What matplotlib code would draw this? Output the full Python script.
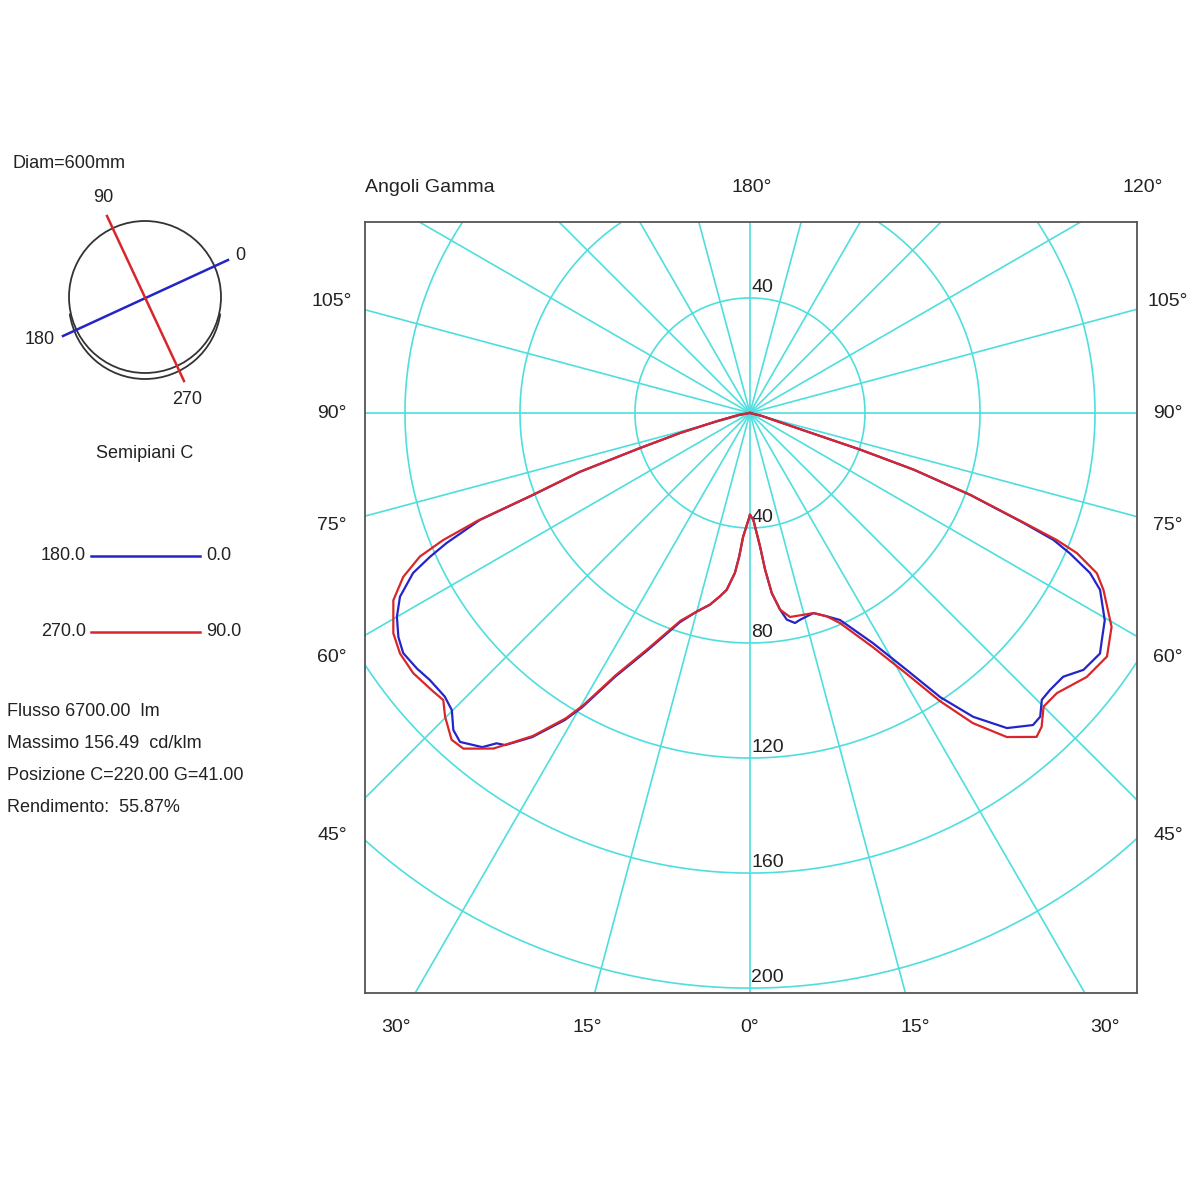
import numpy as np
import matplotlib
matplotlib.use("Agg")
import matplotlib.pyplot as plt
from matplotlib.patches import Circle, Arc

plt.rcParams['font.family'] = ['Liberation Sans', 'DejaVu Sans']

# ---------------- data (gamma in degrees, intensity in cd/klm) ----------------
# C0 half-plane (blue, right side)
gamma_c0 = [0, 1.8, 4.3, 5.5, 6.9, 8.7, 10.1, 12.1, 13.6, 17.6, 20.7, 23.5, 28.1, 31.4,
            33.8, 36.3, 39.2, 42.2, 43.7, 45.5, 47.3, 49.9, 52.4, 55.5, 57.2, 59.7, 63.2,
            64.8, 66.3, 67.3, 68.1, 69.6, 70.9, 71.6, 72.0, 73.0, 76.0, 90.0]
int_c0 = [35.5, 37.2, 46.5, 54.7, 63.1, 69.2, 73.0, 74.7, 74.0, 73.0, 75.6, 78.5, 90.7, 104.8,
          118.9, 131.1, 141.4, 146.5, 146.1, 142.3, 142.0, 142.4, 146.4, 147.7, 145.6, 142.9, 136.4,
          130.7, 121.5, 114.4, 102.5, 81.6, 60.1, 40.3, 20.7, 10.0, 4.0, 0.0]

# C180 half-plane (blue, left side)
gamma_c180 = [0, 3.2, 4.3, 5.4, 7.5, 9.3, 11.8, 15.0, 18.5, 23.3, 27.1, 29.7, 31.1, 33.9,
              36.4, 37.5, 38.7, 41.4, 43.1, 45.1, 47.1, 50.2, 52.5, 55.3, 57.5, 60.0, 62.3,
              64.6, 65.8, 66.8, 68.4, 69.3, 70.9, 72.3, 74.0, 76.0, 80.0, 90.0]
int_c180 = [35.5, 43.2, 50.1, 55.9, 62.0, 64.6, 68.1, 71.5, 76.7, 89.7, 103.1, 117.8, 124.7, 135.8,
            143.5, 144.8, 148.9, 152.5, 151.0, 146.4, 144.9, 145.0, 146.0, 146.7, 145.0, 141.8, 137.5,
            129.7, 122.0, 114.8, 101.0, 80.7, 62.6, 40.1, 25.3, 12.0, 4.0, 0.0]

# C90 half-plane (red, right side)
gamma_c90 = [0, 1.8, 4.3, 5.5, 6.9, 8.7, 11.1, 14.8, 17.6, 20.7, 23.2, 27.7, 31.0, 33.4,
             35.7, 38.4, 41.5, 42.9, 45.0, 47.6, 51.9, 55.7, 59.4, 63.4, 65.2, 66.8, 67.5,
             68.1, 69.6, 70.9, 71.6, 72.0, 73.0, 76.0, 90.0]
int_c90 = [35.5, 37.2, 46.5, 54.7, 63.1, 69.2, 72.3, 72.6, 73.0, 75.6, 79.5, 92.0, 105.9, 120.0,
           132.8, 143.8, 150.4, 149.0, 144.4, 144.5, 148.8, 150.3, 146.1, 137.5, 132.9, 123.7, 115.5,
           104.0, 82.0, 60.5, 40.5, 20.7, 10.0, 4.0, 0.0]

# C270 half-plane (red, left side)
gamma_c270 = [0, 3.2, 4.3, 5.4, 7.5, 9.3, 11.8, 15.0, 18.5, 23.3, 27.1, 29.7, 31.1, 33.9,
              37.4, 40.5, 42.4, 45.1, 46.9, 48.7, 52.3, 55.5, 58.3, 62.3, 64.7, 66.5, 67.5,
              68.4, 69.3, 70.9, 72.3, 74.0, 76.0, 80.0, 90.0]
int_c270 = [35.5, 43.2, 50.1, 55.9, 62.0, 64.6, 68.1, 71.5, 76.2, 89.0, 102.4, 117.0, 124.0, 135.3,
            146.9, 153.5, 153.9, 149.7, 146.1, 146.7, 148.0, 147.7, 145.8, 140.1, 133.4, 125.2, 115.5,
            102.0, 81.5, 63.0, 40.5, 25.3, 12.0, 4.0, 0.0]

rings = [40, 80, 120, 160, 200]
ring_labels = ["40", "80", "120", "160", "200"]
spoke_angles = list(range(0, 360, 15))

bottom_labels = ["30°", "15°", "0°", "15°", "30°"]
side_labels = ["105°", "90°", "75°", "60°", "45°"]
top_labels = ["Angoli Gamma", "180°", "120°"]

legend_rows = [("180.0", "0.0"), ("270.0", "90.0")]
info_lines = ["Flusso 6700.00  lm", "Massimo 156.49  cd/klm",
              "Posizione C=220.00 G=41.00", "Rendimento:  55.87%"]

# ---------------- styling ----------------
GRID = "#4fdede"
BLUE = "#2424c8"
RED = "#d8262a"
TXT = "#222222"
FS_AX = 14
FS_L = 13

fig = plt.figure(figsize=(12, 12), dpi=100)
fig.patch.set_facecolor("white")

# overlay axes in pixel coordinates for annotations
ov = fig.add_axes([0, 0, 1, 1])
ov.set_xlim(0, 1200)
ov.set_ylim(1200, 0)
ov.axis("off")
ov.patch.set_alpha(0)

# main polar-diagram axes (Cartesian, units cd/klm, origin = lamp)
ax = fig.add_axes([365 / 1200, 1 - 993 / 1200, 772 / 1200, 771 / 1200])
ax.set_xlim(-133.9, 134.6)
ax.set_ylim(-201.7, 66.4)
ax.set_xticks([])
ax.set_yticks([])
for sp in ax.spines.values():
    sp.set_color("#555555")
    sp.set_linewidth(1.3)

# grid: rings and spokes
t = np.linspace(0, 2 * np.pi, 721)
for r in rings:
    ax.plot(r * np.cos(t), r * np.sin(t), color=GRID, lw=1.2, zorder=1)
for a in spoke_angles:
    ar = np.radians(a)
    ax.plot([0, 400 * np.sin(ar)], [0, -400 * np.cos(ar)], color=GRID, lw=1.2, zorder=1)

# ring labels
for r, lab in zip(rings, ring_labels):
    ax.text(0.4, -r + 0.8, lab, fontsize=FS_AX, color=TXT, ha="left", va="bottom", zorder=3)
ax.text(0.4, rings[0] + 0.8, ring_labels[0], fontsize=FS_AX, color=TXT, ha="left", va="bottom", zorder=3)


def curve(gam, inten, side):
    g = np.radians(np.asarray(gam, dtype=float))
    i = np.asarray(inten, dtype=float)
    return side * i * np.sin(g), -i * np.cos(g)


for gam, inten, side, col in [(gamma_c180, int_c180, -1, BLUE), (gamma_c0, int_c0, 1, BLUE),
                              (gamma_c270, int_c270, -1, RED), (gamma_c90, int_c90, 1, RED)]:
    x, y = curve(gam, inten, side)
    ax.plot(x, y, color=col, lw=1.6, zorder=4, solid_joinstyle="round")

# ---------------- axis annotations ----------------
ov.text(365, 187, top_labels[0], fontsize=FS_AX, color=TXT, ha="left", va="center")
ov.text(752, 187, top_labels[1], fontsize=FS_AX, color=TXT, ha="center", va="center")
ov.text(1143, 187, top_labels[2], fontsize=FS_AX, color=TXT, ha="center", va="center")

side_y = [302, 413, 525, 657, 835]
for lab, yy in zip(side_labels, side_y):
    ov.text(332, yy, lab, fontsize=FS_AX, color=TXT, ha="center", va="center")
    ov.text(1168, yy, lab, fontsize=FS_AX, color=TXT, ha="center", va="center")

bottom_x = [396, 587, 750, 915, 1105]
for lab, xx in zip(bottom_labels, bottom_x):
    ov.text(xx, 1027, lab, fontsize=FS_AX, color=TXT, ha="center", va="center")

ov.text(1131, 973, "cd/klm", fontsize=FS_AX, color=TXT, ha="right", va="center", zorder=10)

# ---------------- left panel ----------------
ov.text(13, 163, "Diam=600mm", fontsize=FS_L, color=TXT, ha="left", va="center")
ov.add_patch(Circle((145, 297), 76, fill=False, ec="#333333", lw=1.3))
ov.add_patch(Arc((145, 303), 152, 152, theta1=8, theta2=172, ec="#333333", lw=1.3))
ov.plot([63, 228], [336, 260], color=BLUE, lw=1.8)
ov.plot([107, 184], [216, 381], color=RED, lw=1.8)
ov.text(240, 256, "0", fontsize=FS_L, color=TXT, ha="center", va="center")
ov.text(40, 340, "180", fontsize=FS_L, color=TXT, ha="center", va="center")
ov.text(103, 198, "90", fontsize=FS_L, color=TXT, ha="center", va="center")
ov.text(187, 399, "270", fontsize=FS_L, color=TXT, ha="center", va="center")
ov.text(145, 453, "Semipiani C", fontsize=FS_L, color=TXT, ha="center", va="center")

for (l, r), yy, col in zip(legend_rows, [556, 632], [BLUE, RED]):
    ov.text(86, yy, l, fontsize=FS_L, color=TXT, ha="right", va="center")
    ov.plot([91, 200], [yy, yy], color=col, lw=1.8)
    ov.text(206, yy, r, fontsize=FS_L, color=TXT, ha="left", va="center")

for k, line in enumerate(info_lines):
    ov.text(7, 712 + k * 31.7, line, fontsize=FS_L, color=TXT, ha="left", va="center")

fig.savefig("out.png", dpi=100, facecolor="white")
